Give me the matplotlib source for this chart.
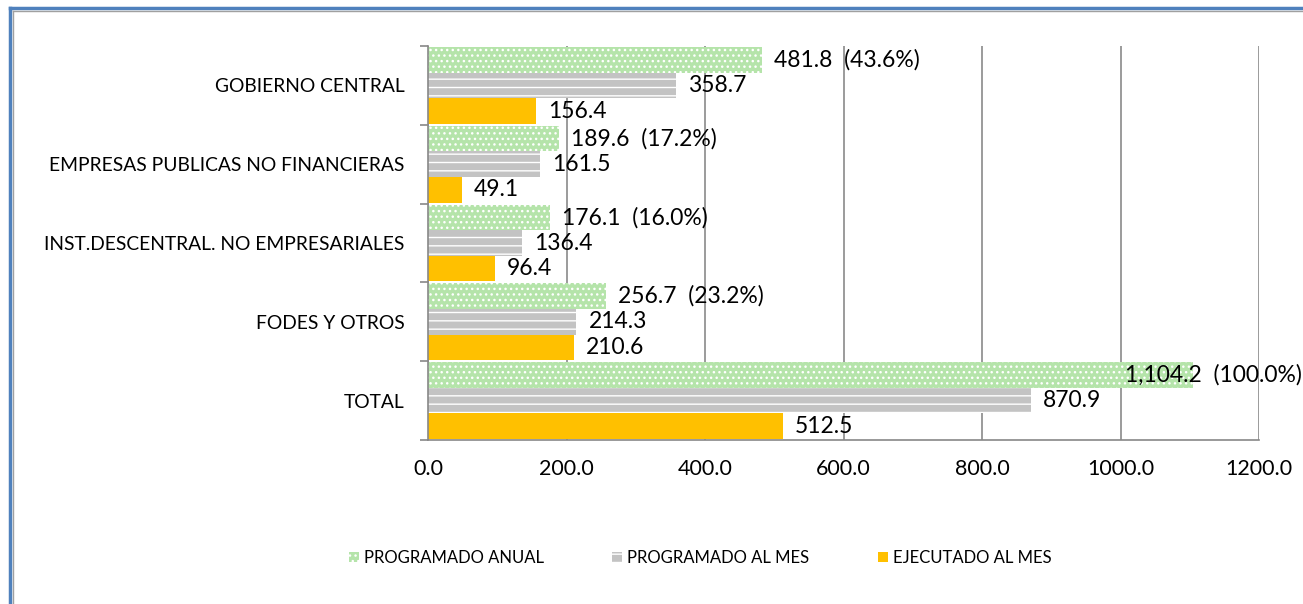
import matplotlib
matplotlib.use("Agg")
import matplotlib.pyplot as plt
from matplotlib.patches import Patch
from matplotlib.lines import Line2D
from matplotlib.transforms import blended_transform_factory
import numpy as np

categories = ["GOBIERNO CENTRAL", "EMPRESAS PUBLICAS NO FINANCIERAS",
              "INST.DESCENTRAL. NO EMPRESARIALES", "FODES Y OTROS", "TOTAL"]
prog_anual = [481.8, 189.6, 176.1, 256.7, 1104.2]
prog_anual_pct = [43.6, 17.2, 16.0, 23.2, 100.0]
prog_mes = [358.7, 161.5, 136.4, 214.3, 870.9]
ejec_mes = [156.4, 49.1, 96.4, 210.6, 512.5]
series_names = ["PROGRAMADO ANUAL", "PROGRAMADO AL MES", "EJECUTADO AL MES"]
xticks = [0, 200, 400, 600, 800, 1000, 1200]

plt.rcParams['font.family'] = ['Lato', 'DejaVu Sans']
plt.rcParams['hatch.color'] = 'white'
plt.rcParams['hatch.linewidth'] = 1.0

fig = plt.figure(figsize=(13.03, 6.04), dpi=100)
ax = fig.add_axes([428/1303, 1-440/604, (1259-428)/1303, (440-46)/604])

green = '#b5e4aa'
gray = '#c3c3c3'
orange = '#ffc000'

n = len(categories)
y = np.arange(n)
h = 0.325
ax.set_axisbelow(True)
ax.barh(y - h, prog_anual, height=h, color=green, hatch='...', edgecolor='white', linewidth=0)
ax.barh(y, prog_mes, height=h, color=gray, hatch='--', edgecolor='white', linewidth=0)
ax.barh(y + h, ejec_mes, height=h, color=orange, linewidth=0)

lbl_fs = 16.5
off = 12
fig_x = blended_transform_factory(fig.transFigure, ax.transData)
for v, p, yy in zip(prog_anual, prog_anual_pct, y - h):
    txt = f"{v:,.1f}  ({p:.1f}%)"
    if v > 1000:
        ax.text(0.999, yy, txt, transform=fig_x, va='center', ha='right', fontsize=lbl_fs)
    else:
        ax.annotate(txt, (v, yy), xytext=(off, 0), textcoords='offset pixels',
                    va='center', ha='left', fontsize=lbl_fs)
for v, yy in zip(prog_mes, y):
    ax.annotate(f"{v:,.1f}", (v, yy), xytext=(off, 0), textcoords='offset pixels',
                va='center', ha='left', fontsize=lbl_fs)
for v, yy in zip(ejec_mes, y + h):
    ax.annotate(f"{v:,.1f}", (v, yy), xytext=(off, 0), textcoords='offset pixels',
                va='center', ha='left', fontsize=lbl_fs)

ax.set_xlim(0, 1200)
ax.set_ylim(n - 0.5, -0.5)
ax.set_xticks(xticks)
ax.set_xticklabels([f"{t:.1f}" for t in xticks], fontsize=15.5)
ax.set_yticks(y)
ax.set_yticklabels(categories, fontsize=13.9)
ax.set_yticks(np.arange(n + 1) - 0.5, minor=True)
ax.tick_params(axis='y', which='major', length=0, pad=17)
ax.tick_params(axis='y', which='minor', length=6, color='#888888', width=1.2)
ax.tick_params(axis='x', length=0, pad=14)
ax.xaxis.grid(True, color='#8a8a8a', linewidth=1.2)
for s in ['top', 'right']:
    ax.spines[s].set_visible(False)
for s in ['left', 'bottom']:
    ax.spines[s].set_color('#888888')
    ax.spines[s].set_linewidth(1.2)

handles = [Patch(facecolor=green, hatch='...', edgecolor='white', linewidth=0),
           Patch(facecolor=gray, hatch='--', edgecolor='white', linewidth=0),
           Patch(facecolor=orange, linewidth=0)]
fig.legend(handles, series_names, loc='center', bbox_to_anchor=(700/1303, 1-558/604),
           ncol=3, frameon=False, fontsize=12, handlelength=0.6, handleheight=0.6,
           handletextpad=0.3, columnspacing=4.1)

# outer border
fig.add_artist(Line2D([10/1303, 10/1303], [0, 1-8/604], transform=fig.transFigure, color='#4f81bd', linewidth=2.5))
fig.add_artist(Line2D([10/1303, 1], [1-8/604, 1-8/604], transform=fig.transFigure, color='#4f81bd', linewidth=2.5))
fig.add_artist(Line2D([12.5/1303, 12.5/1303], [0, 1-10.5/604], transform=fig.transFigure, color='#a0a0a0', linewidth=1))
fig.add_artist(Line2D([12.5/1303, 1], [1-10.5/604, 1-10.5/604], transform=fig.transFigure, color='#a0a0a0', linewidth=1))

fig.savefig("out.png", dpi=100)
